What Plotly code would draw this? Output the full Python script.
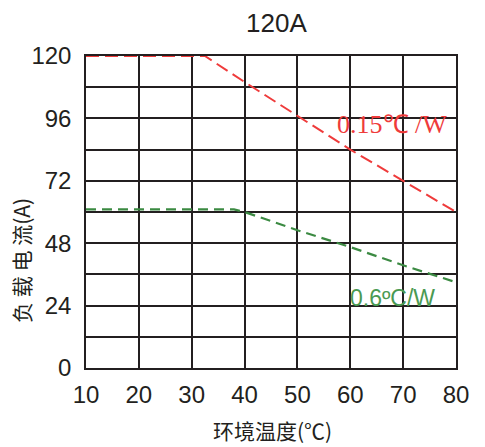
import plotly.graph_objects as go

# Data
red_x = [10, 32.5, 40, 50, 60, 70, 80]
red_y = [120, 120, 110, 97, 84, 72, 60]
green_x = [10, 38, 40, 50, 60, 70, 80]
green_y = [61, 61, 60, 53, 46.5, 39.5, 33]
x_ticks = [10, 20, 30, 40, 50, 60, 70, 80]
y_grid = [0, 12, 24, 36, 48, 60, 72, 84, 96, 108, 120]
y_labels = ["0", "", "24", "", "48", "", "72", "", "96", "", "120"]

fig = go.Figure()
fig.add_trace(go.Scatter(x=red_x, y=red_y, mode="lines",
                         line=dict(color="#ef3b3b", width=2, dash="13px,6px"),
                         showlegend=False, cliponaxis=False))
fig.add_trace(go.Scatter(x=green_x, y=green_y, mode="lines",
                         line=dict(color="#3b8a42", width=2.2, dash="10px,6px"),
                         showlegend=False, cliponaxis=False))

fig.add_annotation(x=80, y=93.5, xref="x", yref="y", text="0.15℃ /W", showarrow=False,
                   xanchor="right", yanchor="middle", xshift=-7,
                   font=dict(family="Liberation Serif", size=26, color="#ef3b3b"))
fig.add_annotation(x=76.4, y=26.9, xref="x", yref="y", text="0.6ºC/W", showarrow=False,
                   xanchor="right", yanchor="middle",
                   font=dict(family="Liberation Sans", size=23, color="#4a9a52"))

# titles as annotations
fig.add_annotation(x=0.516, y=1.106, xref="paper", yref="paper", text="120A", showarrow=False,
                   xanchor="center", yanchor="middle",
                   font=dict(family="Liberation Sans", size=26, color="#231f20"))
fig.add_annotation(x=0.503, y=-0.198, xref="paper", yref="paper", text="环境温度(℃)",
                   showarrow=False, xanchor="center", yanchor="middle",
                   font=dict(family="Noto Sans CJK SC", size=21, color="#231f20"))
fig.add_annotation(x=-0.176, y=0.346, xref="paper", yref="paper", text="负 载 电 流(A)",
                   showarrow=False, xanchor="center", yanchor="middle", textangle=-90,
                   font=dict(family="Noto Sans CJK SC", size=21, color="#231f20"))

fig.update_layout(
    width=485, height=447,
    margin=dict(l=86, r=29, t=56, b=79, autoexpand=False),
    paper_bgcolor="white", plot_bgcolor="white",
    font=dict(family="Liberation Sans", color="#231f20"),
)
fig.update_xaxes(range=[10, 80], tickvals=x_ticks, ticktext=[str(v) for v in x_ticks],
                 showgrid=True, gridcolor="#231f20", gridwidth=1.5,
                 showline=True, linecolor="#231f20", linewidth=1.5, mirror=True,
                 zeroline=False, ticks="", tickfont=dict(size=24), ticklabelstandoff=4)
fig.update_yaxes(range=[0, 120], tickvals=y_grid, ticktext=y_labels,
                 showgrid=True, gridcolor="#231f20", gridwidth=1.5,
                 showline=True, linecolor="#231f20", linewidth=1.5, mirror=True,
                 zeroline=False, ticks="", tickfont=dict(size=24), ticklabelstandoff=8)

fig.write_html("out.html", config={"displayModeBar": False},
               post_script="document.body.style.margin='0';")
